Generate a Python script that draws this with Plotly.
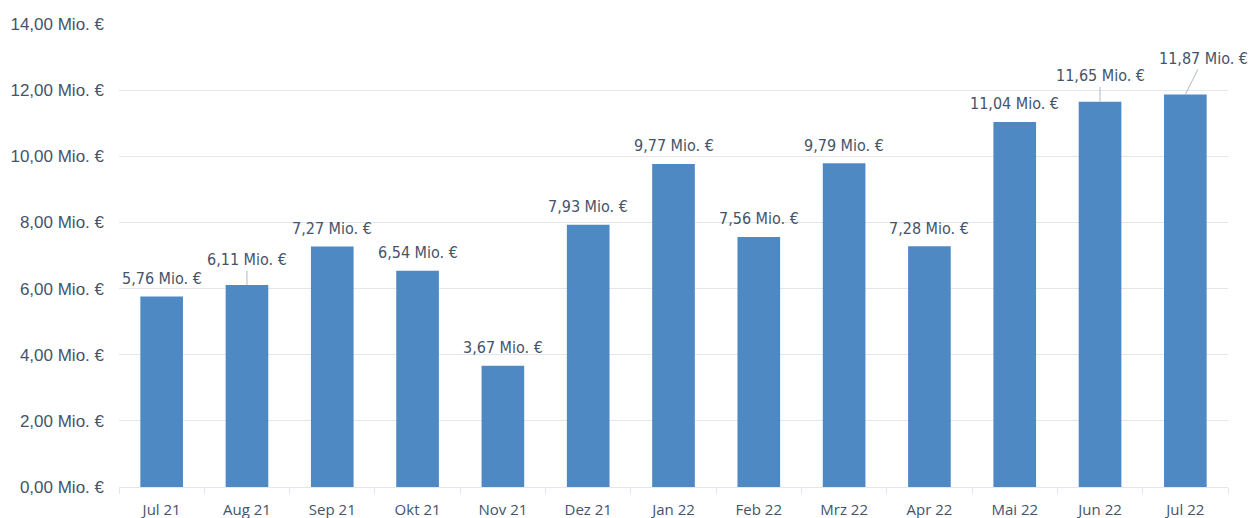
import plotly.graph_objects as go

months = ["Jul 21", "Aug 21", "Sep 21", "Okt 21", "Nov 21", "Dez 21", "Jan 22",
          "Feb 22", "Mrz 22", "Apr 22", "Mai 22", "Jun 22", "Jul 22"]
umsatz = [5.76, 6.11, 7.27, 6.54, 3.67, 7.93, 9.77, 7.56, 9.79, 7.28, 11.04, 11.65, 11.87]
y_ticks = [0, 2, 4, 6, 8, 10, 12, 14]

TEXT = "#44546A"
GRID = "#E3E6EA"


def fmt(v):
    return f"{v:.2f}".replace(".", ",") + " Mio. €"


fig = go.Figure()
fig.add_trace(go.Bar(
    x=months,
    y=umsatz,
    marker=dict(color="#4F89C4", line=dict(width=0)),
    hoverinfo="skip",
))

# label offsets (px) for labels that sit further away with a leader line
leader = {"Aug 21": (0, -25), "Jun 22": (0, -26), "Jul 22": (18, -36)}

for m, v in zip(months, umsatz):
    ax, ay = leader.get(m, (0, -18))
    fig.add_annotation(
        x=m, y=v, text=fmt(v),
        showarrow=True, arrowhead=0, arrowwidth=1,
        arrowcolor="#AEB9C7" if m in leader else "rgba(0,0,0,0)",
        ax=ax, ay=ay,
        font=dict(family="DejaVu Sans Condensed", size=16, color=TEXT),
    )

# the page body has an 8px margin, so margins are shifted by that amount
fig.update_layout(
    width=1260, height=518,
    margin=dict(l=111, r=40, t=16, b=39),
    plot_bgcolor="white", paper_bgcolor="white",
    bargap=0.5,
    showlegend=False,
)
fig.update_xaxes(
    type="category",
    range=[-0.5, len(months) - 0.5],  # keep annotations from widening the axis
    tickfont=dict(family="Open Sans", size=15, color=TEXT),
    showline=True, linecolor=GRID, linewidth=1,
    ticks="outside", tickson="boundaries", ticklen=6, tickcolor=GRID,
    ticklabelstandoff=9,
    showgrid=False, automargin=False,
)
fig.update_yaxes(
    range=[0, 14],
    tickvals=y_ticks,
    ticktext=[fmt(t) for t in y_ticks],
    tickfont=dict(family="Liberation Sans", size=17, color=TEXT),
    gridcolor=GRID, gridwidth=1,
    zeroline=False, showline=False,
    ticklabelstandoff=14,
    automargin=False,
)

fig.write_html("out.html")
